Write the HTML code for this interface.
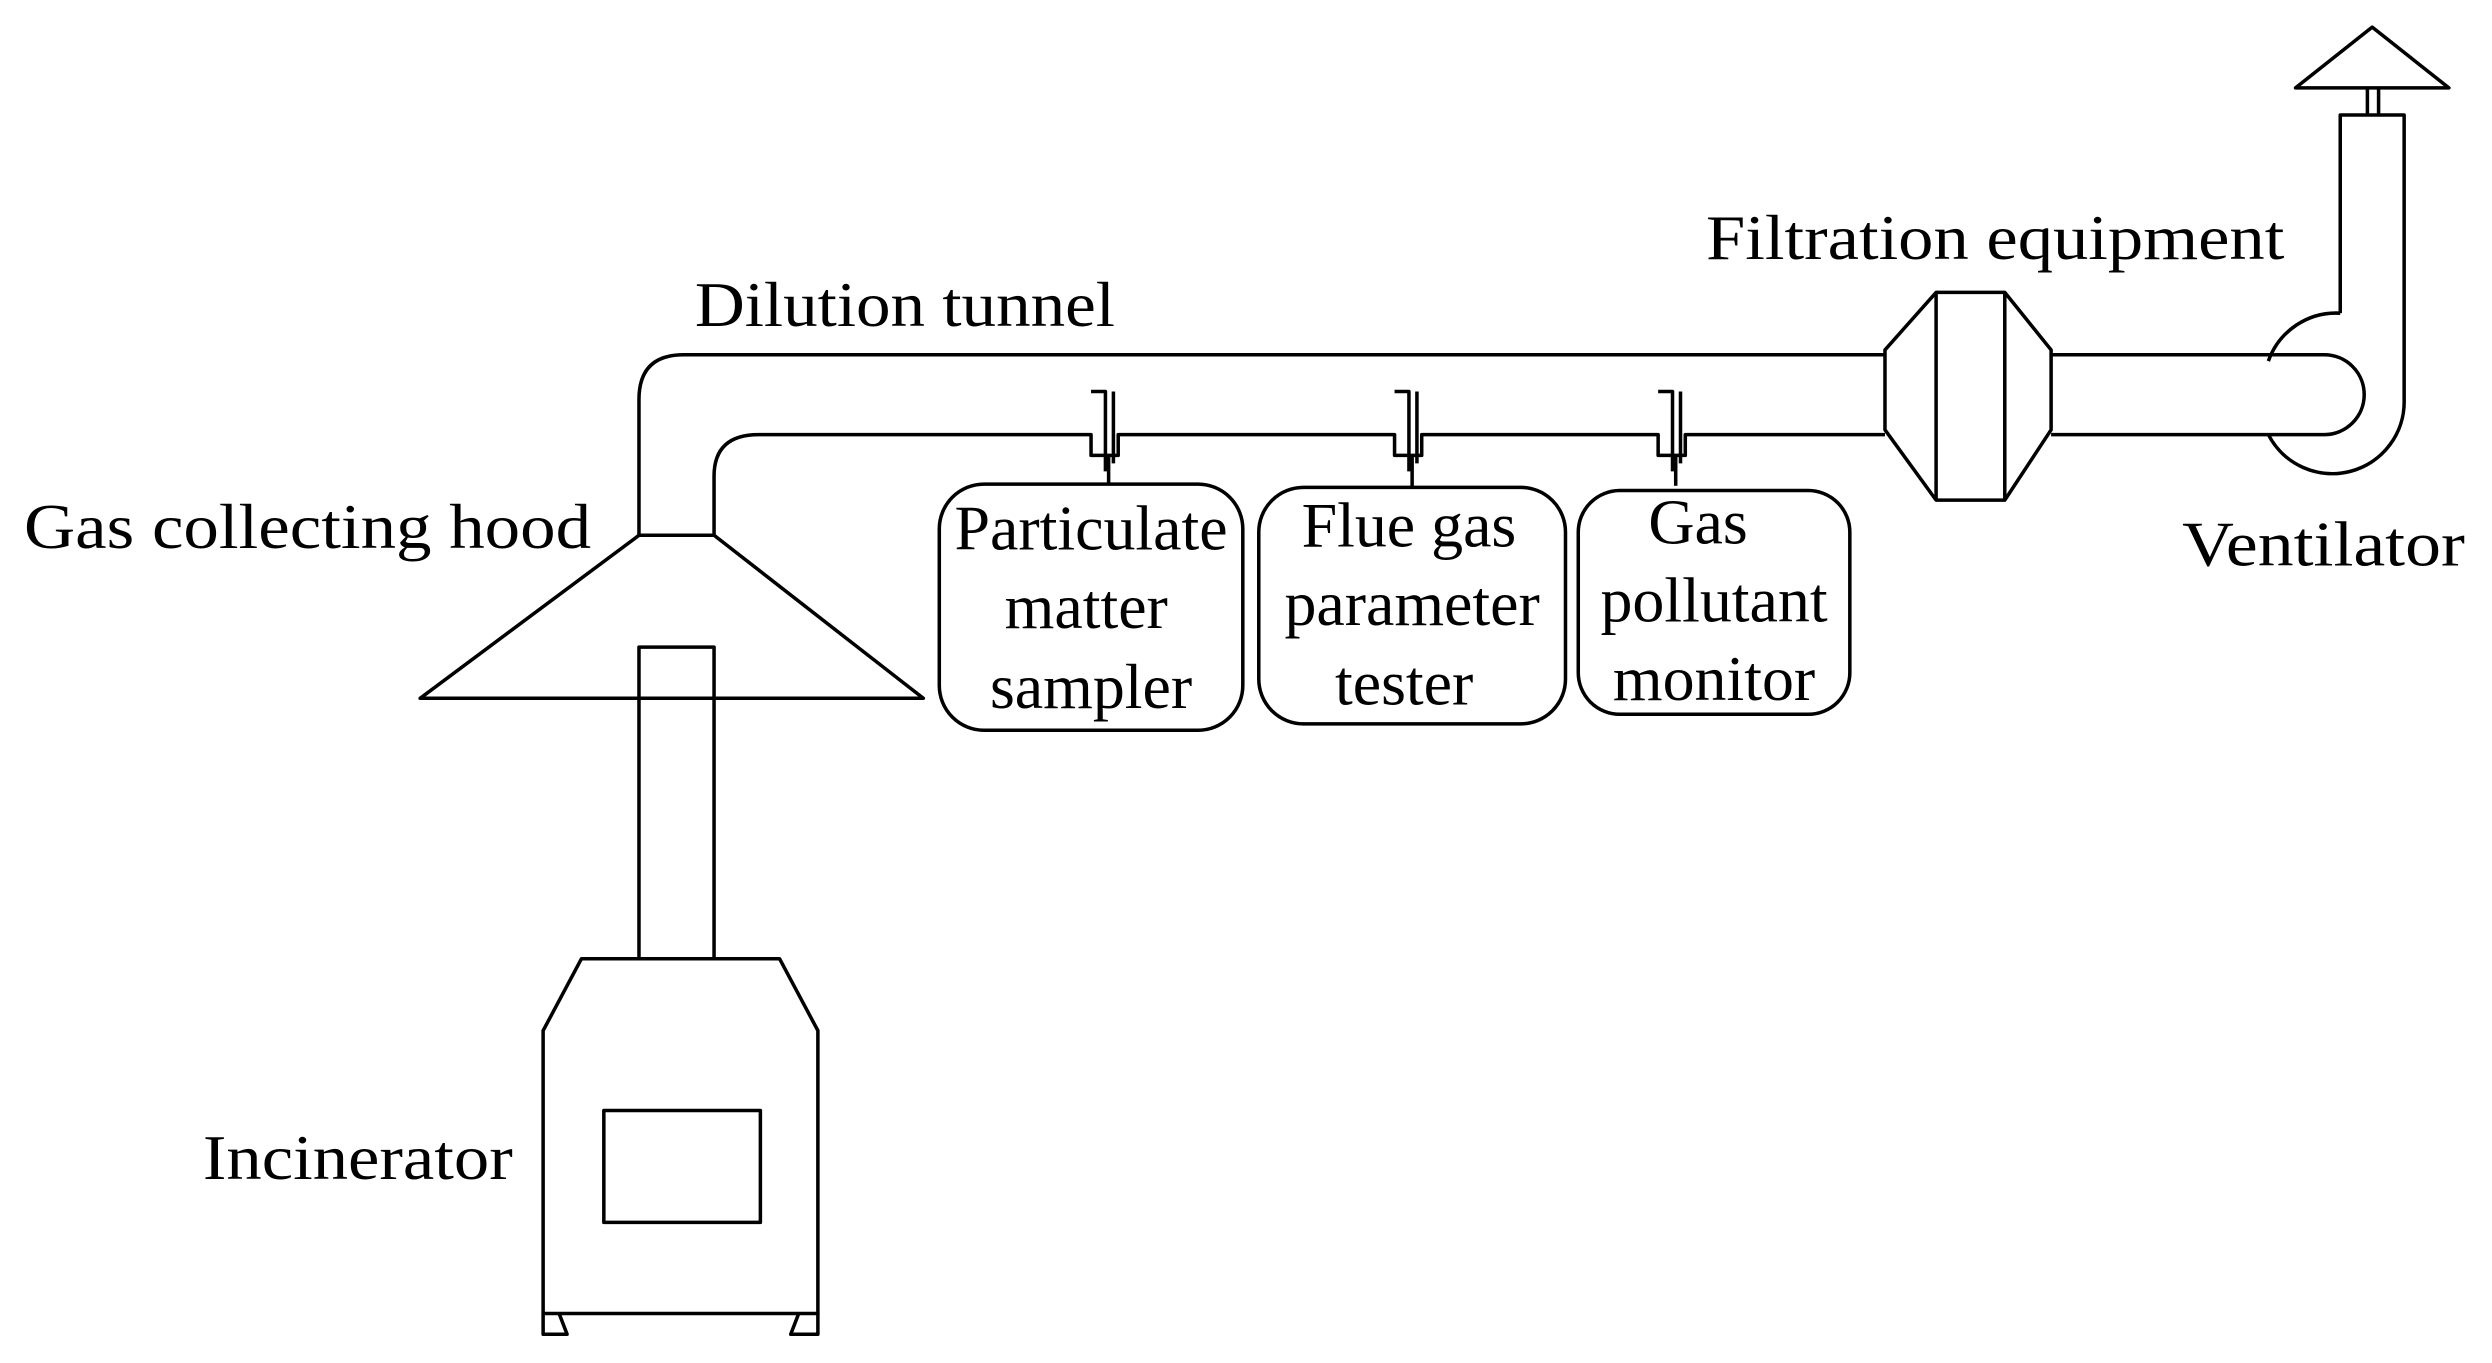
<!DOCTYPE html>
<html><head><meta charset="utf-8"><style>
html,body{margin:0;padding:0;background:#fff;}
svg{display:block;}
text{font-family:"Liberation Serif",serif;fill:#000;}
</style></head><body>
<svg width="2492" height="1363" viewBox="0 0 1560 853" preserveAspectRatio="none" xmlns="http://www.w3.org/2000/svg">
<g fill="none" stroke="#000" stroke-width="2.2" stroke-linejoin="round">
<!-- tunnel -->
<path d="M400,335 V250 Q400,222 428,222 H1180"/>
<path d="M447,335 V298 Q447,272 475,272 H683 V285 H700 V272 H873 V285 H890 V272 H1038 V285 H1055 V272 H1180"/>
<!-- probes -->
<path d="M683,245 H692 V250 M692,245 V295 M697,245 V290"/>
<path d="M694,285 V303"/>
<path d="M873,245 H882 V250 M882,245 V295 M887,245 V290"/>
<path d="M884,285 V305"/>
<path d="M1038,245 H1047 V250 M1047,245 V295 M1052,245 V290"/>
<path d="M1049,285 V304"/>
<!-- hood -->
<path d="M400,335 H447 L578,437 H263 Z"/>
<!-- chimney -->
<path d="M400,600 V405 H447 V600"/>
<!-- incinerator -->
<path d="M364,600 H488 L512,645 V822 H340 V645 Z"/>
<path d="M340,822 V835 H355 L350,822 M512,822 V835 H495 L500,822"/>
<rect x="378" y="695" width="98" height="70"/>
<!-- boxes -->
<rect x="588" y="303" width="190" height="154" rx="28"/>
<rect x="788" y="305" width="192" height="148" rx="28"/>
<rect x="988" y="307" width="170" height="140" rx="26"/>
<!-- filter -->
<path d="M1180,219 V269 L1212,313 H1255 L1284,269 V219 L1255,183 H1212 Z"/>
<path d="M1212,183 V313 M1255,183 V313"/>
<!-- right pipe -->
<path d="M1284,222 H1455 A25,25 0 0 1 1455,272 H1284"/>
<!-- fan -->
<path d="M1420,226 A45,45 0 0 1 1465,196 M1420,272 A45,45 0 0 0 1505,250 V72 H1465 V196"/>
<path d="M1482,72 V55 M1489,72 V55"/>
<path d="M1437,55 L1485,17 L1533,55 Z"/>
</g>
<g font-size="40">
<text x="435" y="204" textLength="263" lengthAdjust="spacingAndGlyphs">Dilution tunnel</text>
<text x="1068" y="162" textLength="362" lengthAdjust="spacingAndGlyphs">Filtration equipment</text>
<text x="15" y="343" textLength="355" lengthAdjust="spacingAndGlyphs">Gas collecting hood</text>
<text x="1366" y="354" textLength="177" lengthAdjust="spacingAndGlyphs">Ventilator</text>
<text x="127" y="738" textLength="194" lengthAdjust="spacingAndGlyphs">Incinerator</text>
</g>
<g font-size="40" text-anchor="middle">
<text x="683" y="344">Particulate</text>
<text x="680" y="393">matter</text>
<text x="683" y="443">sampler</text>
<text x="882" y="342">Flue gas</text>
<text x="884" y="391">parameter</text>
<text x="879" y="441">tester</text>
<text x="1063" y="340">Gas</text>
<text x="1073" y="389">pollutant</text>
<text x="1073" y="438">monitor</text>
</g>
</svg>
</body></html>
